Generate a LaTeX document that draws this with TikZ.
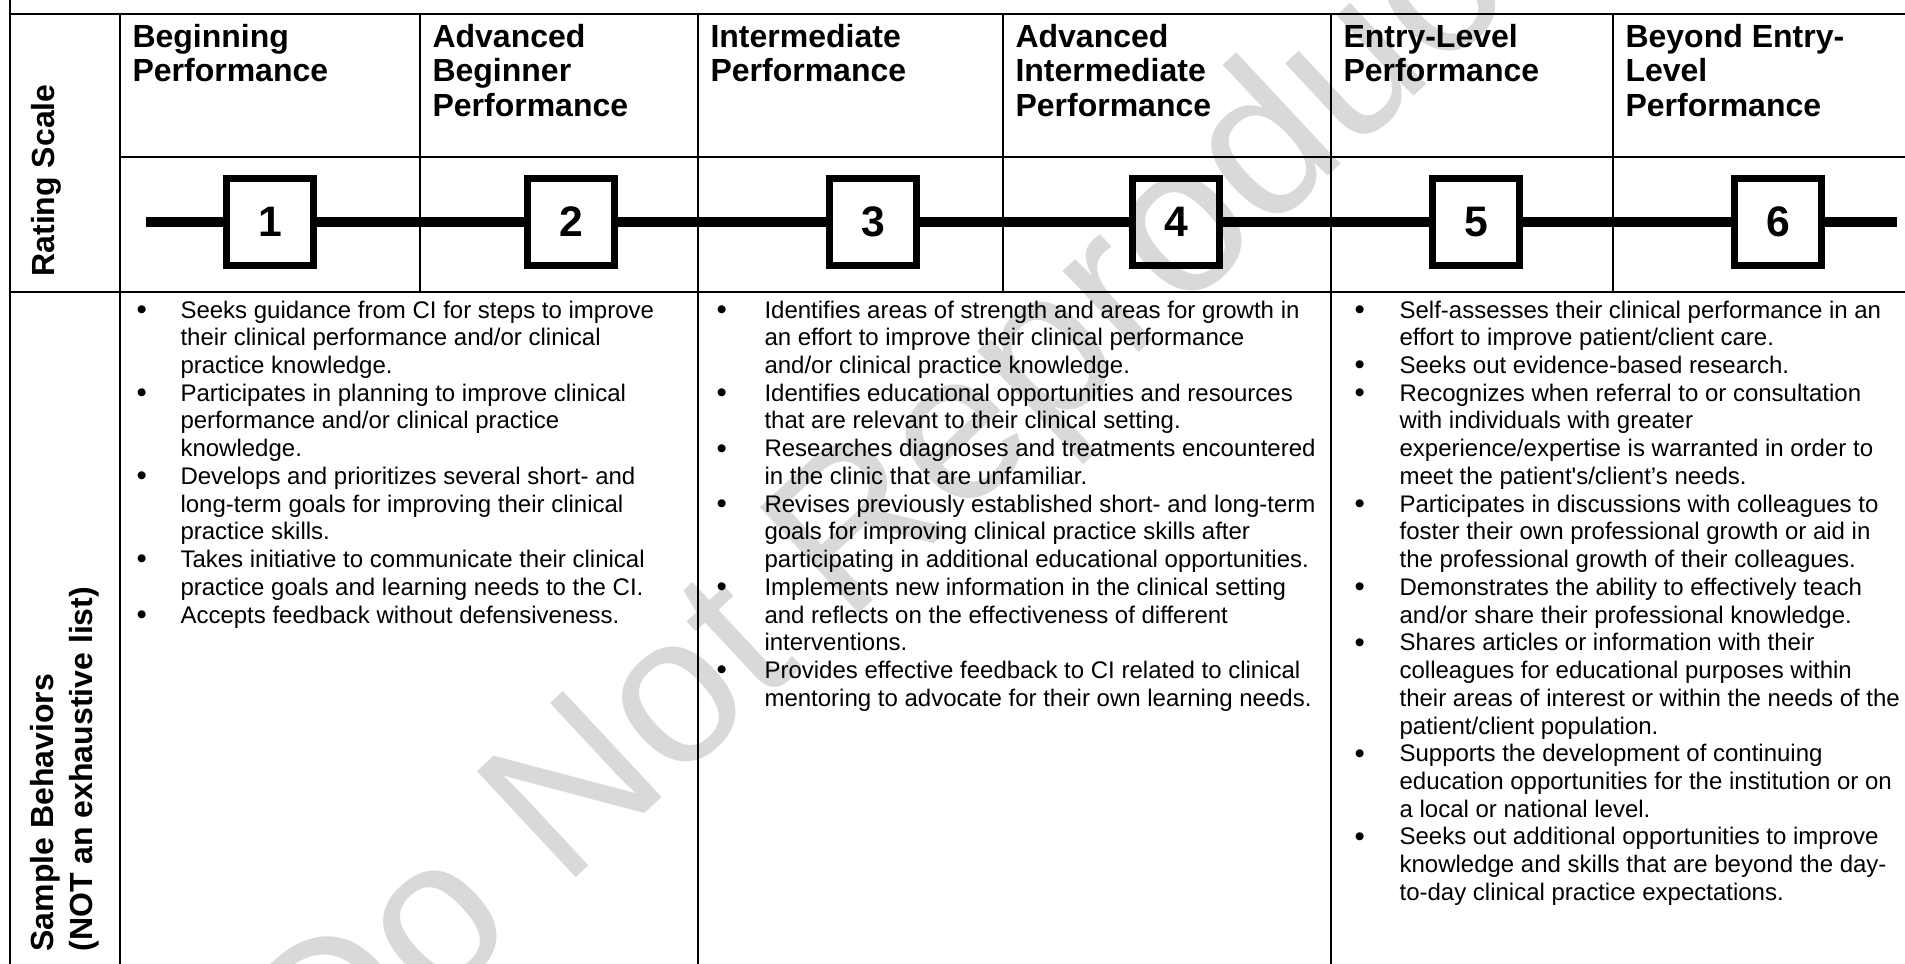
\documentclass[tikz,border=0pt]{standalone}
\usepackage{fontspec}
\setmainfont{Liberation Sans}
\usepackage{array}
\definecolor{filigrana}{RGB}{217,217,217}
\newcommand{\colonna}[1]{\begin{tabular}[t]{@{}l@{}}#1\end{tabular}}
\newcommand{\pallino}{\raisebox{-0.5pt}{\fontsize{11}{10}\selectfont\textbullet}}
\begin{document}
\begin{tikzpicture}[x=0.375pt, y=-0.375pt,
        griglia/.style={line width=1pt},
        scala/.style={line width=3.7pt},
        casella/.style={draw, line width=2.6pt, minimum size=32.3pt, inner sep=0pt,
            font=\bfseries\fontsize{16}{19}\selectfont},
        testa/.style={anchor=base west, inner sep=0pt,
            font=\bfseries\fontsize{12}{13.1}\selectfont},
        verticale/.style={rotate=90, anchor=base west, inner sep=0pt,
            font=\bfseries\fontsize{12}{13.1}\selectfont},
        voce/.style={anchor=base west, inner sep=0pt,
            font=\fontsize{9}{10.4}\selectfont}]
    \useasboundingbox (0,0) rectangle (1905,964);
    \clip (0,0) rectangle (1905,964);

    % Filigrana
    \node[rotate=43, text=filigrana, font=\fontsize{79}{90}\selectfont] (wm) at (925,478) {Do Not Reproduce};

    % Griglia
    \draw[griglia] (10,0) -- (10,964);
    \draw[griglia] (10,14) -- (1910,14);
    \draw[griglia] (120,14) -- (120,964);
    \draw[griglia] (120,157) -- (1910,157);
    \draw[griglia] (10,292) -- (1910,292);
    \foreach \x in {420, 1003, 1613}
        \draw[griglia] (\x,14) -- (\x,292);
    \foreach \x in {698, 1331}
        \draw[griglia] (\x,14) -- (\x,964);

    % Intestazioni
    \node[verticale] (rating) at (55,277) {Rating Scale};
    \node[verticale] (sample) at (53,952) {Sample Behaviors};
    \node[verticale] (nonlista) at (92,952) {(NOT an exhaustive list)};
    \node[testa] (h1) at (132,47) {\colonna{Beginning\\Performance}};
    \node[testa] (h2) at (432,47) {\colonna{Advanced\\Beginner\\Performance}};
    \node[testa] (h3) at (710,47) {\colonna{Intermediate\\Performance}};
    \node[testa] (h4) at (1015,47) {\colonna{Advanced\\Intermediate\\Performance}};
    \node[testa] (h5) at (1343,47) {\colonna{Entry-Level\\Performance}};
    \node[testa] (h6) at (1625,47) {\colonna{Beyond Entry-\\Level\\Performance}};

    % Scala
    \foreach \n/\x in {1/270, 2/571, 3/873, 4/1176, 5/1476, 6/1778}
        \node[casella] (n\n) at (\x,222) {\n};
    \coordinate (inizio) at (146,222);
    \coordinate (fine) at (1897,222);
    \draw[scala] (inizio) -- (n1) (n1) -- (n2) (n2) -- (n3) (n3) -- (n4)
        (n4) -- (n5) (n5) -- (n6) (n6) -- (fine);

    % Comportamenti
    \node[voce] (c1) at (136,318) {\begin{tabular}[t]{@{}p{16.5pt}@{}l@{}}
        \pallino & Seeks guidance from CI for steps to improve\\
        & their clinical performance and/or clinical\\
        & practice knowledge.\\
        \pallino & Participates in planning to improve clinical\\
        & performance and/or clinical practice\\
        & knowledge.\\
        \pallino & Develops and prioritizes several short- and\\
        & long-term goals for improving their clinical\\
        & practice skills.\\
        \pallino & Takes initiative to communicate their clinical\\
        & practice goals and learning needs to the CI.\\
        \pallino & Accepts feedback without defensiveness.
    \end{tabular}};
    \node[voce] (c2) at (716,318) {\begin{tabular}[t]{@{}p{18pt}@{}l@{}}
        \pallino & Identifies areas of strength and areas for growth in\\
        & an effort to improve their clinical performance\\
        & and/or clinical practice knowledge.\\
        \pallino & Identifies educational opportunities and resources\\
        & that are relevant to their clinical setting.\\
        \pallino & Researches diagnoses and treatments encountered\\
        & in the clinic that are unfamiliar.\\
        \pallino & Revises previously established short- and long-term\\
        & goals for improving clinical practice skills after\\
        & participating in additional educational opportunities.\\
        \pallino & Implements new information in the clinical setting\\
        & and reflects on the effectiveness of different\\
        & interventions.\\
        \pallino & Provides effective feedback to CI related to clinical\\
        & mentoring to advocate for their own learning needs.
    \end{tabular}};
    \node[voce] (c3) at (1354,318) {\begin{tabular}[t]{@{}p{16.9pt}@{}l@{}}
        \pallino & Self-assesses their clinical performance in an\\
        & effort to improve patient/client care.\\
        \pallino & Seeks out evidence-based research.\\
        \pallino & Recognizes when referral to or consultation\\
        & with individuals with greater\\
        & experience/expertise is warranted in order to\\
        & meet the patient\textquotesingle s/client’s needs.\\
        \pallino & Participates in discussions with colleagues to\\
        & foster their own professional growth or aid in\\
        & the professional growth of their colleagues.\\
        \pallino & Demonstrates the ability to effectively teach\\
        & and/or share their professional knowledge.\\
        \pallino & Shares articles or information with their\\
        & colleagues for educational purposes within\\
        & their areas of interest or within the needs of the\\
        & patient/client population.\\
        \pallino & Supports the development of continuing\\
        & education opportunities for the institution or on\\
        & a local or national level.\\
        \pallino & Seeks out additional opportunities to improve\\
        & knowledge and skills that are beyond the day-\\
        & to-day clinical practice expectations.
    \end{tabular}};
\end{tikzpicture}
\end{document}
